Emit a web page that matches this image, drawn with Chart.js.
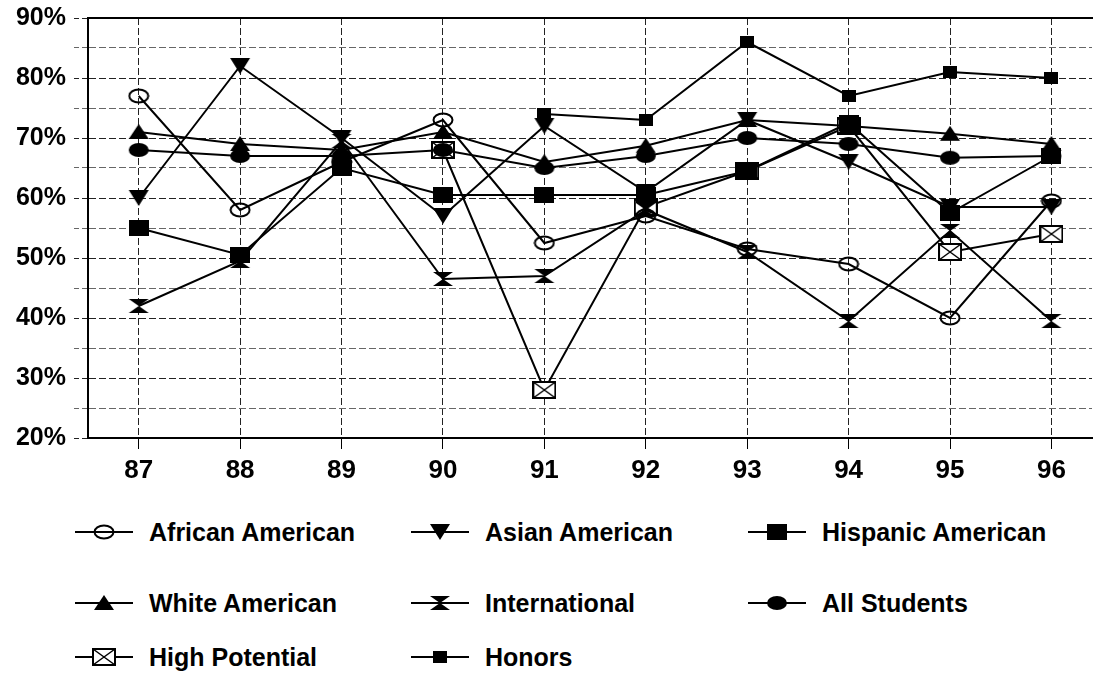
<!DOCTYPE html>
<html lang="en">
<head>
  <meta charset="UTF-8">
  <title>Percentages by group, 87-96</title>
  <script src="https://cdn.jsdelivr.net/npm/chart.js"></script>
  <style>
    body { margin: 0; background: #fff; font-family: "Liberation Sans", Arial, sans-serif; }
    #wrap { position: relative; width: 1102px; height: 674px; }
    #chart { position: absolute; left: 0; top: 0; }
    .item { position: absolute; height: 30px; display: flex; align-items: center;
            font-weight: bold; font-size: 25px; color: #000; white-space: nowrap; }
    .item canvas { margin-right: 14px; }
  </style>
</head>
<body>
<div id="wrap">
  <canvas id="chart" width="1102" height="500"></canvas>
  <div id="legend"></div>
</div>

<script>
// data
const years = [87, 88, 89, 90, 91, 92, 93, 94, 95, 96];
const african       = [77, 58, 66, 73, 52.5, 57, 51.5, 49, 40, 59.5];
const asian         = [60, 82, 70, 57, 72, 61, 73, 66, 58.5, 58.5];
const hispanic      = [55, 50.5, 65, 60.5, 60.5, 60.5, 64.5, 72.5, 57.5, 67];
const white         = [71, 69, 68, 71, 66, 68.7, 73, 72, 70.7, 69];
const international = [42, 49.5, 69.5, 46.5, 47, 58, 51, 39.5, 54.5, 39.5];
const allStudents   = [68, 67, 67, 68, 65, 67, 70, 69, 66.7, 67];
const highPotential = [null, null, null, 68, 28, 58.5, 64.5, 72, 51, 54];
const honors        = [null, null, null, null, 74, 73, 86, 77, 81, 80];
const yTicks = [20, 25, 30, 35, 40, 45, 50, 55, 60, 65, 70, 75, 80, 85, 90];

// marker images
function mk(w, h, draw) {
  const c = document.createElement('canvas');
  c.width = w; c.height = h;
  const g = c.getContext('2d');
  g.fillStyle = '#000'; g.strokeStyle = '#000'; g.lineWidth = 2;
  draw(g, w, h);
  return c;
}
const markers = {
  openCircle: mk(22, 16, g => { g.beginPath(); g.ellipse(11, 8, 9.5, 6.5, 0, 0, 2 * Math.PI); g.stroke(); }),
  downTri: mk(22, 18, g => { g.beginPath(); g.moveTo(1, 1); g.lineTo(21, 1); g.lineTo(11, 17); g.closePath(); g.fill(); }),
  bigSquare: mk(20, 16, g => g.fillRect(0, 0, 20, 16)),
  upTri: mk(22, 16, g => { g.beginPath(); g.moveTo(11, 0); g.lineTo(21, 15); g.lineTo(1, 15); g.closePath(); g.fill(); }),
  hourglass: mk(22, 16, g => {
    g.beginPath(); g.moveTo(1, 1); g.lineTo(21, 1); g.lineTo(11, 8); g.closePath(); g.fill();
    g.beginPath(); g.moveTo(11, 8); g.lineTo(21, 15); g.lineTo(1, 15); g.closePath(); g.fill();
  }),
  dot: mk(22, 16, g => { g.beginPath(); g.ellipse(11, 8, 10, 7, 0, 0, 2 * Math.PI); g.fill(); }),
  boxX: mk(24, 18, g => {
    g.fillStyle = '#fff'; g.fillRect(1, 1, 22, 16);
    g.strokeRect(1, 1, 22, 16);
    g.lineWidth = 1.5;
    g.beginPath(); g.moveTo(1, 1); g.lineTo(23, 17); g.moveTo(23, 1); g.lineTo(1, 17); g.stroke();
  }),
  smallSquare: mk(14, 12, g => g.fillRect(0, 0, 14, 12))
};

const series = [
  { label: 'African American', data: african, marker: 'openCircle' },
  { label: 'Asian American', data: asian, marker: 'downTri' },
  { label: 'Hispanic American', data: hispanic, marker: 'bigSquare' },
  { label: 'White American', data: white, marker: 'upTri' },
  { label: 'International', data: international, marker: 'hourglass' },
  { label: 'All Students', data: allStudents, marker: 'dot' },
  { label: 'High Potential', data: highPotential, marker: 'boxX' },
  { label: 'Honors', data: honors, marker: 'smallSquare' }
];

Chart.defaults.font.family = '"Liberation Sans", Arial, sans-serif';
Chart.defaults.font.weight = 'bold';
Chart.defaults.color = '#000';

const isMajor = c => c.tick && c.tick.value % 10 === 0;

new Chart(document.getElementById('chart'), {
  type: 'line',
  data: {
    datasets: series.map(s => ({
      label: s.label,
      data: s.data.map((v, i) => ({ x: years[i], y: v })),
      borderColor: '#000',
      borderWidth: 2,
      pointStyle: markers[s.marker],
      pointRadius: 8,
      tension: 0,
      spanGaps: false
    }))
  },
  options: {
    responsive: false,
    animation: false,
    layout: { padding: { top: 18, left: 5, right: 2, bottom: 0 } },
    plugins: { legend: { display: false }, tooltip: { enabled: false } },
    scales: {
      x: {
        type: 'linear', min: 86.5, max: 96.4,
        afterBuildTicks: s => { s.ticks = years.map(v => ({ value: v })); },
        afterFit: s => { s.height = 62; },
        ticks: { autoSkip: false, font: { size: 26, weight: 'bold' }, padding: 6, callback: v => String(v) },
        grid: { color: '#222', lineWidth: 1, tickLength: 11, tickBorderDash: [], tickColor: '#000' },
        border: { color: '#000', width: 2, dash: [7, 3] }
      },
      xTop: {
        type: 'linear', position: 'top', min: 86.5, max: 96.4,
        afterFit: s => { s.height = 0; },
        ticks: { display: false, padding: 0 },
        grid: { display: false, drawTicks: false, tickLength: 0 },
        border: { color: '#000', width: 2 }
      },
      y: {
        min: 20, max: 90,
        afterBuildTicks: s => { s.ticks = yTicks.map(v => ({ value: v })); },
        afterFit: s => { s.width = 83; s.paddingTop = 0; },
        ticks: {
          autoSkip: false,
          font: { size: 25, weight: 'bold' }, padding: 8,
          callback: v => (v % 10 === 0 ? v + '%' : '')
        },
        grid: {
          color: c => (isMajor(c) ? '#222' : '#666'),
          lineWidth: 1, tickLength: 14, tickBorderDash: [5, 3],
          tickColor: c => (isMajor(c) ? '#222' : '#666')
        },
        border: { color: '#000', width: 2, dash: [7, 3] }
      }
    }
  }
});

// legend, three columns
const legendPos = [
  [75, 532], [411, 532], [748, 532],
  [75, 603], [411, 603], [748, 603],
  [75, 657], [411, 657]
];
const legend = document.getElementById('legend');
series.forEach((s, i) => {
  const item = document.createElement('div');
  item.className = 'item';
  item.style.left = legendPos[i][0] + 'px';
  item.style.top = (legendPos[i][1] - 15) + 'px';
  const m = markers[s.marker];
  const icon = mk(60, 20, g => {
    g.beginPath(); g.moveTo(0, 10); g.lineTo(58, 10); g.stroke();
    g.drawImage(m, 29 - m.width / 2, 10 - m.height / 2);
  });
  item.appendChild(icon);
  const t = document.createElement('span');
  t.textContent = s.label;
  item.appendChild(t);
  legend.appendChild(item);
});
</script>
</body>
</html>
